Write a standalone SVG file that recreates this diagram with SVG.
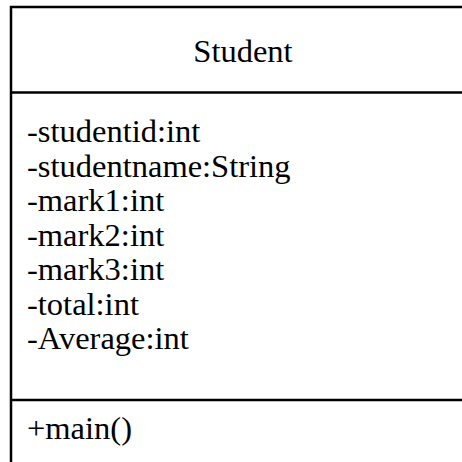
<svg xmlns="http://www.w3.org/2000/svg" width="462" height="462" viewBox="0 0 462 462">
<style>
text{font-family:'Liberation Serif','Times New Roman',serif;font-size:32.5px;fill:#000}
.b{fill:#fff;stroke:#000;stroke-width:2.5}
.l{stroke:#000;stroke-width:2.5}
</style>
<rect width="462" height="462" fill="#fff"/>
<g id="Student">
<rect class="b" x="11" y="7" width="500" height="500"/>
<line class="l" x1="11" y1="92.5" x2="470" y2="92.5"/>
<line class="l" x1="11" y1="400" x2="470" y2="400"/>
<text x="243" y="62" text-anchor="middle" font-size="30">Student</text>
<text x="27" y="142">-studentid:int</text>
<text x="27" y="176.5">-studentname:String</text>
<text x="27" y="211">-mark1:int</text>
<text x="27" y="245.5">-mark2:int</text>
<text x="27" y="280">-mark3:int</text>
<text x="27" y="314.5">-total:int</text>
<text x="27" y="349">-Average:int</text>
<text x="27" y="439">+main()</text>
</g>
<g id="connectors"/>
</svg>
